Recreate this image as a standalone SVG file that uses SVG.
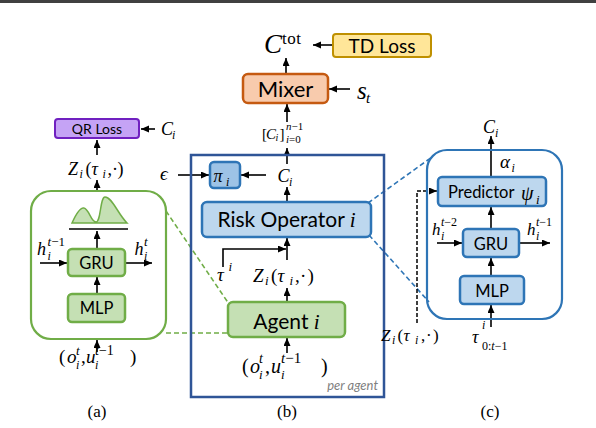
<svg xmlns="http://www.w3.org/2000/svg" width="596" height="428" viewBox="0 0 596 428">
<defs>
<marker id="ah" markerUnits="userSpaceOnUse" markerWidth="9" markerHeight="8" refX="8" refY="3.5" orient="auto">
<path d="M0,0 L8,3.5 L0,7 z" fill="#000"/>
</marker>
<style>
.m{font-family:"Liberation Serif","DejaVu Serif",serif;font-style:italic;fill:#000}
.u{font-style:normal}
.b{font-family:Lato,"Liberation Sans",sans-serif;fill:#000}
.ar{stroke:#000;stroke-width:1.6;fill:none;marker-end:url(#ah)}
.gbox{fill:#c5e0b4;stroke:#70ad47;stroke-width:2.5}
.bbox{fill:#bdd7ee;stroke:#2e75b6;stroke-width:2.5}
.gd{stroke:#70ad47;stroke-width:1.6;stroke-dasharray:5 3;fill:none}
.bd{stroke:#2e75b6;stroke-width:1.6;stroke-dasharray:5 3;fill:none}
.cap{font-family:"Liberation Serif","DejaVu Serif",serif;font-size:17px;fill:#000}
</style>
</defs>
<rect x="0" y="0" width="596" height="3" fill="#404040"/>

<!-- connectors -->
<g id="connectors">
<line class="gd" x1="166" y1="211" x2="229" y2="304"/>
<line class="gd" x1="166" y1="333" x2="229" y2="333"/>
<line class="bd" x1="368" y1="203" x2="432" y2="157"/>
<line class="bd" x1="369" y1="235" x2="429" y2="302"/>
<!-- (a) -->
<line class="ar" x1="97" y1="155" x2="97" y2="140"/>
<line class="ar" x1="155" y1="129" x2="141" y2="129"/>
<line class="ar" x1="97" y1="191" x2="97" y2="180"/>
<line class="ar" x1="97" y1="249" x2="97" y2="231"/>
<line class="ar" x1="97" y1="294" x2="97" y2="277"/>
<line class="ar" x1="97" y1="352" x2="97" y2="340"/>
<line class="ar" x1="40" y1="263" x2="67" y2="263"/>
<line class="ar" x1="125" y1="263" x2="152" y2="263"/>
<!-- (b) -->
<line class="ar" x1="286" y1="74" x2="286" y2="58"/>
<line class="ar" x1="332" y1="45" x2="313" y2="45"/>
<line class="ar" x1="350" y1="89" x2="329" y2="89"/>
<line class="ar" x1="287" y1="122" x2="287" y2="104"/>
<line class="ar" x1="287" y1="164" x2="287" y2="148"/>
<line class="ar" x1="178" y1="175" x2="209" y2="175"/>
<line class="ar" x1="266" y1="175" x2="241" y2="175"/>
<line class="ar" x1="287" y1="202" x2="287" y2="187"/>
<line class="ar" x1="287" y1="260" x2="287" y2="238"/>
<path class="ar" d="M223,267 V249 H286"/>
<line class="ar" x1="287" y1="302" x2="287" y2="288"/>
<line class="ar" x1="287" y1="353" x2="287" y2="338"/>
<!-- (c) -->
<line class="ar" x1="491" y1="177" x2="491" y2="136"/>
<line class="ar" x1="491" y1="229" x2="491" y2="207"/>
<line class="ar" x1="491" y1="276" x2="491" y2="258"/>
<line class="ar" x1="491" y1="327" x2="491" y2="305"/>
<line class="ar" x1="437" y1="243" x2="462" y2="243"/>
<line class="ar" x1="519" y1="243" x2="550" y2="243"/>
<path d="M417,323 V191 H437" style="stroke:#000;stroke-width:1.5;fill:none;stroke-dasharray:4 2;marker-end:url(#ah)"/>
</g>

<!-- panel (a) -->
<g id="panel-a">
<rect x="31" y="191" width="135" height="148" rx="20" fill="none" stroke="#70ad47" stroke-width="2.2"/>
<path d="M72,223 C76,214 80,207 84,208 C89,209 91,222 96,222 C101,222 100,197 105,197 C112,197 118,214 127,223 Z" fill="#c5e0b4" stroke="#70ad47" stroke-width="1.5"/>
<line x1="69" y1="229" x2="128" y2="229" stroke="#000" stroke-width="1.5"/>
</g>
<g id="qr-loss">
<rect x="55" y="119" width="84" height="19" rx="3" fill="#c5a3f5" stroke="#7020c0" stroke-width="2"/>
<text class="b" x="97" y="134" font-size="14" text-anchor="middle">QR Loss</text>
</g>
<g id="gru-a">
<rect class="gbox" x="68" y="249" width="57" height="27" rx="4"/>
<text class="b" x="96.5" y="269" font-size="16.5" text-anchor="middle">GRU</text>
</g>
<g id="mlp-a">
<rect class="gbox" x="68" y="294" width="57" height="28" rx="4"/>
<text class="b" x="96.5" y="314" font-size="16.5" text-anchor="middle">MLP</text>
</g>
<g id="labels-a">
<text class="m" font-size="18"><tspan x="161" y="135">C</tspan><tspan x="172" y="139" font-size="12">i</tspan></text>
<text class="m" font-size="18"><tspan x="68" y="175">Z</tspan><tspan x="79.5" y="178" font-size="12">i</tspan><tspan class="u" x="85.5" y="175">(</tspan><tspan x="91.5" y="175">τ</tspan><tspan x="102.5" y="178" font-size="12">i</tspan><tspan class="u" x="107.5" y="175">,</tspan><tspan class="u" x="112" y="175">·</tspan><tspan class="u" x="117.5" y="175">)</tspan></text>
<text class="m" font-size="18"><tspan x="37" y="255">h</tspan><tspan x="47.5" y="246" font-size="13">t<tspan class="u">−1</tspan></tspan><tspan x="47.5" y="260" font-size="12">i</tspan></text>
<text class="m" font-size="18"><tspan x="134.5" y="255">h</tspan><tspan x="144" y="246" font-size="13">t</tspan><tspan x="144" y="260" font-size="12">i</tspan></text>
<text class="m" font-size="19"><tspan class="u" x="59" y="363">(</tspan><tspan x="67" y="363">o</tspan><tspan x="76" y="355" font-size="13">t</tspan><tspan x="76" y="369" font-size="12">i</tspan><tspan class="u" x="81" y="363">,</tspan><tspan x="86" y="363">u</tspan><tspan x="95" y="355" font-size="14">t<tspan class="u">−1</tspan></tspan><tspan x="95" y="369" font-size="12">i</tspan><tspan class="u" x="130" y="363">)</tspan></text>
</g>

<!-- panel (b) -->
<g id="td-loss">
<rect x="333" y="34" width="98" height="23" rx="3" fill="#ffe699" stroke="#bf9000" stroke-width="2"/>
<text class="b" x="382" y="53" font-size="19" text-anchor="middle">TD Loss</text>
</g>
<g id="mixer">
<rect x="243" y="74" width="85" height="29" rx="5" fill="#f8cbad" stroke="#c55a11" stroke-width="2.5"/>
<text class="b" x="285.5" y="96.5" font-size="22" text-anchor="middle">Mixer</text>
</g>
<g id="per-agent">
<rect x="191" y="155" width="193" height="242" fill="none" stroke="#2f5597" stroke-width="2.5"/>
<text x="378" y="390" font-family="Lato,'Liberation Sans',sans-serif" font-style="italic" font-size="13" fill="#7f7f7f" text-anchor="end">per agent</text>
</g>
<g id="pi">
<rect x="210" y="162" width="30" height="26" rx="4" fill="#9dc3e6" stroke="#2e75b6" stroke-width="2.5"/>
<text class="m" font-size="18"><tspan x="213.5" y="182">π</tspan><tspan x="226" y="186" font-size="12">i</tspan></text>
</g>
<g id="risk-operator">
<rect class="bbox" x="202" y="202" width="169" height="35" rx="5"/>
<text class="b" x="286.5" y="227" font-size="21" text-anchor="middle">Risk Operator <tspan class="m">i</tspan></text>
</g>
<g id="agent">
<rect class="gbox" x="228" y="302" width="117" height="35" rx="5"/>
<text class="b" x="286.5" y="329" font-size="21" text-anchor="middle">Agent <tspan class="m">i</tspan></text>
</g>
<g id="labels-b">
<text class="m" font-size="27"><tspan x="264" y="53">C</tspan><tspan class="u" x="282" y="44" font-size="17" letter-spacing="0.5">tot</tspan></text>
<text class="m" font-size="25"><tspan x="357" y="99">s</tspan><tspan x="366" y="103" font-size="15">t</tspan></text>
<text class="m" font-size="15"><tspan class="u" x="262" y="139">[</tspan><tspan x="266" y="139">C</tspan><tspan x="275.5" y="141" font-size="10">i</tspan><tspan class="u" x="279.5" y="139">]</tspan><tspan x="286" y="130" font-size="11">n<tspan class="u">−1</tspan></tspan><tspan x="286" y="143" font-size="11">i<tspan class="u">=0</tspan></tspan></text>
<text class="m" font-size="19"><tspan x="160" y="180">ϵ</tspan></text>
<text class="m" font-size="18"><tspan x="277.5" y="182">C</tspan><tspan x="289" y="186" font-size="12">i</tspan></text>
<text class="m" font-size="19"><tspan x="217" y="281">τ</tspan><tspan x="228.5" y="271" font-size="13">i</tspan></text>
<text class="m" font-size="19"><tspan x="253" y="281.5">Z</tspan><tspan x="265" y="285" font-size="13">i</tspan><tspan class="u" x="271" y="281.5">(</tspan><tspan x="277.5" y="281.5">τ</tspan><tspan x="289.5" y="285" font-size="13">i</tspan><tspan class="u" x="295" y="281.5">,</tspan><tspan class="u" x="300" y="281.5">·</tspan><tspan class="u" x="307.5" y="281.5">)</tspan></text>
<text class="m" font-size="20"><tspan class="u" x="242" y="373">(</tspan><tspan x="250" y="373">o</tspan><tspan x="259" y="363" font-size="14">t</tspan><tspan x="259" y="379" font-size="13">i</tspan><tspan class="u" x="265" y="373">,</tspan><tspan x="271" y="373">u</tspan><tspan x="281" y="363" font-size="15">t<tspan class="u">−1</tspan></tspan><tspan x="281" y="379" font-size="13">i</tspan><tspan class="u" x="321" y="373">)</tspan></text>
</g>

<!-- panel (c) -->
<g id="panel-c">
<rect x="427" y="150" width="135" height="169" rx="20" fill="none" stroke="#2e75b6" stroke-width="2.2"/>
</g>
<g id="predictor">
<rect class="bbox" x="438" y="177" width="108" height="29" rx="4"/>
<text class="b" x="448" y="198" font-size="16.5">Predictor</text>
<text class="m" font-size="20"><tspan x="521" y="200">ψ</tspan><tspan x="536" y="204" font-size="13">i</tspan></text>
</g>
<g id="gru-c">
<rect class="bbox" x="463" y="229" width="56" height="28" rx="4"/>
<text class="b" x="491" y="250" font-size="16.5" text-anchor="middle">GRU</text>
</g>
<g id="mlp-c">
<rect class="bbox" x="460" y="276" width="64" height="28" rx="4"/>
<text class="b" x="492" y="297" font-size="16.5" text-anchor="middle">MLP</text>
</g>
<g id="labels-c">
<text class="m" font-size="18"><tspan x="483" y="133">C</tspan><tspan x="495" y="137" font-size="12">i</tspan></text>
<text class="m" font-size="19"><tspan x="500" y="168">α</tspan><tspan x="511.5" y="172" font-size="12">i</tspan></text>
<text class="m" font-size="17"><tspan x="432" y="235">h</tspan><tspan x="441" y="226" font-size="12">t<tspan class="u">−2</tspan></tspan><tspan x="441" y="240" font-size="12">i</tspan></text>
<text class="m" font-size="17"><tspan x="527" y="235">h</tspan><tspan x="536" y="226" font-size="12">t<tspan class="u">−1</tspan></tspan><tspan x="536" y="240" font-size="12">i</tspan></text>
<text class="m" font-size="17"><tspan x="381" y="341">Z</tspan><tspan x="392" y="344" font-size="12">i</tspan><tspan class="u" x="397.5" y="341">(</tspan><tspan x="403.5" y="341">τ</tspan><tspan x="415" y="344" font-size="12">i</tspan><tspan class="u" x="421" y="341">,</tspan><tspan class="u" x="426" y="341">·</tspan><tspan class="u" x="433" y="341">)</tspan></text>
<text class="m" font-size="18"><tspan x="472" y="343">τ</tspan><tspan x="482" y="329" font-size="12">i</tspan><tspan x="482" y="350" font-size="12"><tspan class="u">0:</tspan>t<tspan class="u">−1</tspan></tspan></text>
</g>

<g id="captions">
<text class="cap" x="97" y="417" text-anchor="middle">(a)</text>
<text class="cap" x="287" y="417" text-anchor="middle">(b)</text>
<text class="cap" x="490" y="417" text-anchor="middle">(c)</text>
</g>
</svg>
